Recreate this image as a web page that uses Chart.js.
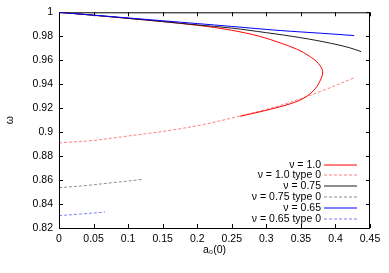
<!DOCTYPE html>
<html>
<head>
<meta charset="utf-8">
<script src="https://cdn.jsdelivr.net/npm/chart.js@4/dist/chart.umd.min.js"></script>
<style>
  body { margin: 0; background: #fff; }
  #wrap { width: 389px; height: 273px; }
</style>
</head>
<body>
<div id="wrap"><canvas id="chartCanvas" width="389" height="273"></canvas></div>
<script>
// a0(0) values and omega values
var nu10A = [0, 0.1, 0.2, 0.25, 0.29, 0.32, 0.345, 0.362, 0.375, 0.3815, 0.3775, 0.368, 0.353, 0.335, 0.31, 0.2865, 0.2623];
var nu10W = [1, 0.9949, 0.9892, 0.985, 0.98, 0.9745, 0.969, 0.9635, 0.9575, 0.9505, 0.9425, 0.9345, 0.928, 0.9237, 0.9197, 0.9164, 0.9133];

var nu10t0A = [0, 0.05, 0.091, 0.13, 0.163, 0.204, 0.241, 0.2623, 0.3, 0.335, 0.383, 0.4266];
var nu10t0W = [0.891, 0.8931, 0.8961, 0.899, 0.9017, 0.9058, 0.9105, 0.9135, 0.919, 0.925, 0.935, 0.9452];

var nu075A = [0, 0.1, 0.2, 0.25, 0.3, 0.35, 0.3928, 0.42, 0.437];
var nu075W = [1, 0.995, 0.9895, 0.9868, 0.983, 0.9788, 0.9742, 0.9705, 0.9672];

var nu075t0A = [0, 0.04, 0.08, 0.122];
var nu075t0W = [0.8536, 0.8555, 0.858, 0.8606];

var nu065A = [0, 0.1, 0.2, 0.25, 0.32, 0.38, 0.427];
var nu065W = [1, 0.9953, 0.9906, 0.9882, 0.9848, 0.9825, 0.9806];

var nu065t0A = [0, 0.03, 0.0667];
var nu065t0W = [0.8303, 0.8316, 0.8333];

var seriesLabels = ['ν = 1.0', 'ν = 1.0 type 0', 'ν = 0.75', 'ν = 0.75 type 0', 'ν = 0.65', 'ν = 0.65 type 0'];
var xTicks = [0, 0.05, 0.1, 0.15, 0.2, 0.25, 0.3, 0.35, 0.4, 0.45];
var yTicks = [0.82, 0.84, 0.86, 0.88, 0.9, 0.92, 0.94, 0.96, 0.98, 1];

var lineColors = ['rgb(255, 0, 0)', 'rgba(255, 0, 0, 0.5)', 'rgb(30, 30, 30)', 'rgba(0, 0, 0, 0.45)', 'rgb(0, 0, 255)', 'rgba(0, 0, 255, 0.5)'];
var lineDashed = [false, true, false, true, false, true];

function pts(xs, ys) {
    return xs.map(function (x, i) { return { x: x, y: ys[i] }; });
}

function series(i, xs, ys) {
    return {
        label: seriesLabels[i],
        data: pts(xs, ys),
        showLine: true,
        pointRadius: 0,
        borderWidth: 1,
        borderColor: lineColors[i],
        borderDash: lineDashed[i] ? [3, 2] : [],
        tension: 0.35,
        order: 6 - i
    };
}

function fmt(v) {
    return String(+v.toFixed(2));
}

var FONT = '10.5px "Liberation Sans", Arial, sans-serif';

// gnuplot-style frame with inward ticks on all four sides, plus the key
var framePlugin = {
    id: 'frame',
    beforeDatasetsDraw: function (chart) {
        var ctx = chart.ctx, a = chart.chartArea;
        var xs = chart.scales.x, ys = chart.scales.y;
        ctx.save();
        ctx.strokeStyle = '#000';
        ctx.lineWidth = 1;
        ctx.beginPath();
        xTicks.forEach(function (v) {
            var p = Math.round(xs.getPixelForValue(v)) + 0.5;
            ctx.moveTo(p, a.bottom); ctx.lineTo(p, a.bottom - 4);
            ctx.moveTo(p, a.top); ctx.lineTo(p, a.top + 4);
        });
        yTicks.forEach(function (v) {
            var p = Math.round(ys.getPixelForValue(v)) + 0.5;
            ctx.moveTo(a.left, p); ctx.lineTo(a.left + 4, p);
            ctx.moveTo(a.right, p); ctx.lineTo(a.right - 4, p);
        });
        ctx.stroke();
        ctx.strokeRect(a.left + 0.5, a.top + 0.5, a.right - a.left - 1, a.bottom - a.top);
        ctx.restore();
    },
    afterDraw: function (chart) {
        var ctx = chart.ctx, a = chart.chartArea;
        var n = seriesLabels.length;
        ctx.save();
        ctx.font = FONT;
        ctx.textAlign = 'right';
        ctx.textBaseline = 'middle';
        for (var i = 0; i < n; i++) {
            var y = Math.round(a.bottom - 9.5 - (n - 1 - i) * 10.8);
            ctx.fillStyle = '#000';
            ctx.fillText(seriesLabels[i], a.right - 49, y);
            ctx.strokeStyle = lineColors[i];
            ctx.lineWidth = 1.2;
            ctx.setLineDash(lineDashed[i] ? [3, 2] : []);
            ctx.beginPath();
            ctx.moveTo(a.right - 46, y);
            ctx.lineTo(a.right - 13, y);
            ctx.stroke();
        }
        ctx.restore();
    }
};

Chart.defaults.font.family = '"Liberation Sans", Arial, sans-serif';
Chart.defaults.font.size = 10.5;
Chart.defaults.color = '#000';

var ctx = document.getElementById('chartCanvas').getContext('2d');
var myChart = new Chart(ctx, {
    type: 'scatter',
    data: {
        datasets: [
            series(0, nu10A, nu10W),
            series(1, nu10t0A, nu10t0W),
            series(2, nu075A, nu075W),
            series(3, nu075t0A, nu075t0W),
            series(4, nu065A, nu065W),
            series(5, nu065t0A, nu065t0W)
        ]
    },
    options: {
        responsive: false,
        animation: false,
        layout: { padding: { top: 12, right: 19, left: 0, bottom: 0 } },
        plugins: {
            legend: { display: false },
            tooltip: { enabled: false }
        },
        scales: {
            x: {
                type: 'linear',
                min: 0,
                max: 0.45,
                afterBuildTicks: function (scale) {
                    scale.ticks = xTicks.map(function (v) { return { value: v }; });
                },
                afterFit: function (scale) { scale.height = 45; },
                grid: { display: false, drawTicks: false },
                border: { display: false },
                ticks: { padding: 5, maxRotation: 0, callback: fmt },
                title: { display: true, text: 'a₀(0)', padding: { top: 0, bottom: 17 } }
            },
            y: {
                type: 'linear',
                min: 0.82,
                max: 1,
                afterBuildTicks: function (scale) {
                    scale.ticks = yTicks.map(function (v) { return { value: v }; });
                },
                afterFit: function (scale) { scale.width = 59; },
                grid: { display: false, drawTicks: false },
                border: { display: false },
                ticks: { padding: 6, callback: fmt },
                title: { display: true, text: 'ω', padding: { top: 4, bottom: 0 } }
            }
        }
    },
    plugins: [framePlugin]
});
</script>
</body>
</html>
